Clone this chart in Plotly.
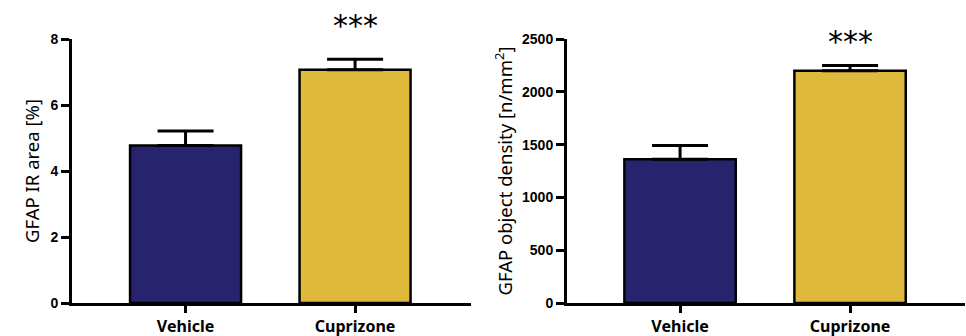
import plotly.graph_objects as go

categories = ["Vehicle", "Cuprizone"]
ir_area = [4.77, 7.07]
ir_area_err = [0.44, 0.32]
density = [1361, 2200]
density_err = [130, 50]
bar_colors = ["#27236D", "#DFB93B"]
sig_label = "***"

fig = go.Figure()
fig.add_trace(go.Bar(
    x=categories, y=ir_area, xaxis="x", yaxis="y",
    marker=dict(color=bar_colors, line=dict(color="black", width=2.5)),
    width=0.655,
    error_y=dict(type="data", array=ir_area_err, arrayminus=[0, 0], symmetric=False,
                 color="black", thickness=3, width=28),
    showlegend=False, hoverinfo="skip",
))
fig.add_trace(go.Bar(
    x=categories, y=density, xaxis="x2", yaxis="y2",
    marker=dict(color=bar_colors, line=dict(color="black", width=2.5)),
    width=0.655,
    error_y=dict(type="data", array=density_err, arrayminus=[0, 0], symmetric=False,
                 color="black", thickness=3, width=28),
    showlegend=False, hoverinfo="skip",
))

ytickfont = dict(family="Liberation Sans, Arial", size=14, color="black", weight="bold")
xfont = dict(family="Noto Sans", size=16, color="black", weight="bold")
titlefont = dict(family="Noto Sans", size=18.5, color="black")
axis_common = dict(showline=True, linecolor="black", linewidth=3, ticks="outside",
                   tickwidth=3, tickcolor="black", showgrid=False, zeroline=False)

fig.update_layout(
    width=966, height=336,
    margin=dict(l=0, r=0, t=39, b=33),
    plot_bgcolor="white", paper_bgcolor="white",
    xaxis=dict(domain=[72/966, 471/966], range=[-0.67, 1.684], ticklen=7,
               tickfont=xfont, anchor="y", **axis_common),
    yaxis=dict(domain=[0, 1], range=[0, 8], tickvals=[0, 2, 4, 6, 8], ticklen=8,
               tickfont=ytickfont,
               title=dict(text="GFAP IR area [%]", font=titlefont, standoff=6),
               anchor="x", **axis_common),
    xaxis2=dict(domain=[567/966, 965/966], range=[-0.665, 1.676], ticklen=7,
                tickfont=xfont, anchor="y2", **axis_common),
    yaxis2=dict(domain=[0, 1], range=[0, 2500], tickvals=[0, 500, 1000, 1500, 2000, 2500], ticklen=8,
                tickfont=ytickfont,
                title=dict(text="GFAP object density [n/mm<sup>2</sup>]", font=titlefont, standoff=5),
                anchor="x2", **axis_common),
)

fig.add_annotation(x=categories[1], y=1.051, xref="x", yref="y domain", text=sig_label, showarrow=False,
                   font=dict(family="DejaVu Sans", size=30, color="black"), yanchor="middle")
fig.add_annotation(x=categories[1], y=0.9905, xref="x2", yref="y2 domain", text=sig_label, showarrow=False,
                   font=dict(family="DejaVu Sans", size=30, color="black"), yanchor="middle")

fig.write_html("out.html", config={"displayModeBar": False},
               post_script="document.body.style.margin='0';document.body.style.overflow='hidden';")
